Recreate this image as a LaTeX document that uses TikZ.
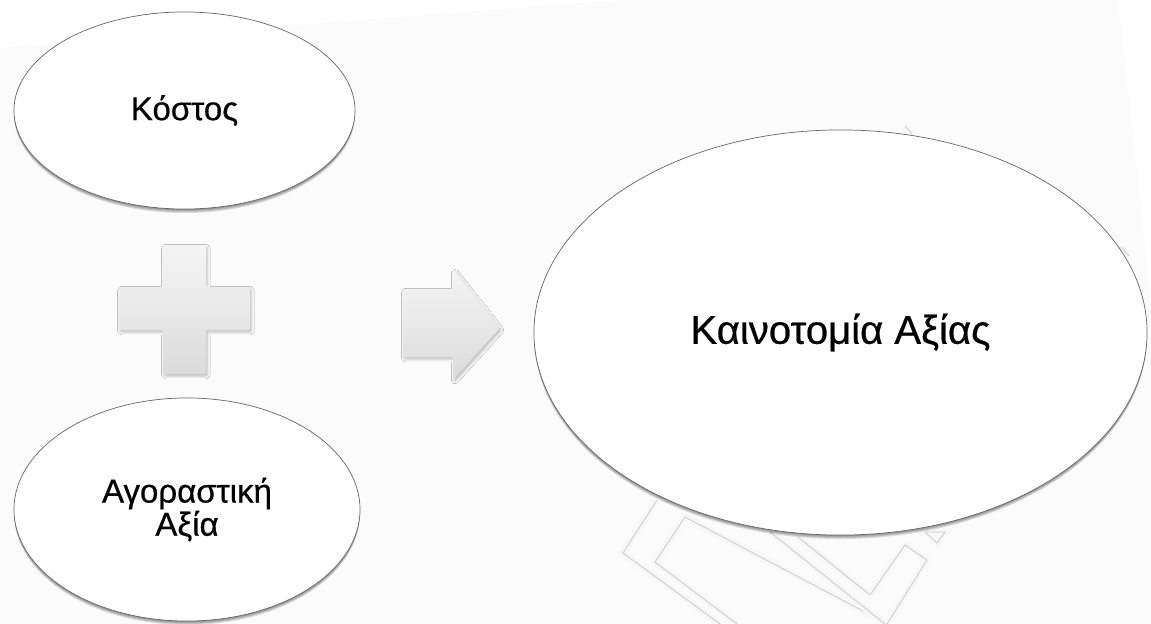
\documentclass[tikz,border=0pt]{standalone}
\usepackage{fontspec}
\setmainfont{Liberation Sans}
\newfontfamily\labelfont[FakeBold=0.6]{Liberation Sans}
\usetikzlibrary{shapes.geometric,shadows.blur}

\begin{document}
\begin{tikzpicture}[x=0.025cm,y=-0.025cm,
  bubble/.style={ellipse, draw=black!60, line width=0.5pt, fill=white,
    inner sep=0pt, text=black, align=center},
  softshade/.style={fill=black, opacity=0.12},
  glyph/.style={draw=none, rounded corners=1pt,
    top color=black!4, bottom color=black!14,
    blur shadow={shadow xshift=1pt, shadow yshift=-1.5pt,
                 shadow blur radius=2pt, shadow opacity=25}},
  wmline/.style={draw=black!22, line width=0.5pt, line join=round,
    preaction={draw=black!3, line width=5pt}}
]
\useasboundingbox (0,0) rectangle (1151,624);

% page background: white sheet with a faintly grey, slightly tilted panel
\fill[white] (0,0) rectangle (1151,624);
\fill[black!1.5] (0,48) -- (620,0) -- (1118,0) -- (1151,300) -- (1151,624)
  -- (0,624) -- cycle;

% faint outline logo behind the result ellipse
\draw[wmline] (657,500) -- (623,553) -- (720,624);
\draw[wmline] (880,620) -- (685,517) -- (655,562) -- (737,624);
\draw[wmline] (770,532) -- (885,624);
\draw[wmline] (798,537) -- (870,595) -- (905,545) -- (927,560) -- (887,624);
\draw[wmline] (925,532) -- (945,532) -- (937,543) -- cycle;
\draw[wmline] (905,126) -- (912,134);
\draw[wmline] (1121,247) -- (1129,256);

% soft shadows under the lower rims of the ellipses
\foreach \d in {1,2,3,4}{
  \fill[softshade] (184.5,110.5+\d) ellipse [x radius=170.5, y radius=98.5];
  \fill[softshade] (187,509.5+\d) ellipse [x radius=173, y radius=111.5];
  \fill[softshade] (840.5,332.5+\d) ellipse [x radius=306.5, y radius=202.5];
}

% plus sign
\path[glyph] (163,245) -- (206,245) -- (206,287) -- (250,287) -- (250,330)
  -- (206,330) -- (206,374) -- (163,374) -- (163,330) -- (119,330)
  -- (119,287) -- (163,287) -- cycle;

% block arrow
\path[glyph] (403,289) -- (453,289) -- (453,269) -- (500,328) -- (453,380)
  -- (453,357) -- (403,357) -- cycle;

% ellipses
\node[bubble, minimum width=8.525cm, minimum height=4.925cm,
  font=\labelfont\fontsize{23.5}{26}\selectfont] (cost) at (184.5,110.5) {Κόστος};
\node[bubble, minimum width=8.65cm, minimum height=5.575cm,
  font=\labelfont\fontsize{23.5}{18.5}\selectfont] (buyer) at (187,509.5)
  {Αγοραστική\\Αξία};
\node[bubble, minimum width=15.325cm, minimum height=10.125cm,
  font=\labelfont\fontsize{28.5}{32}\selectfont] (innov) at (840.5,332.5)
  {Καινοτομία Αξίας};
\end{tikzpicture}
\end{document}
